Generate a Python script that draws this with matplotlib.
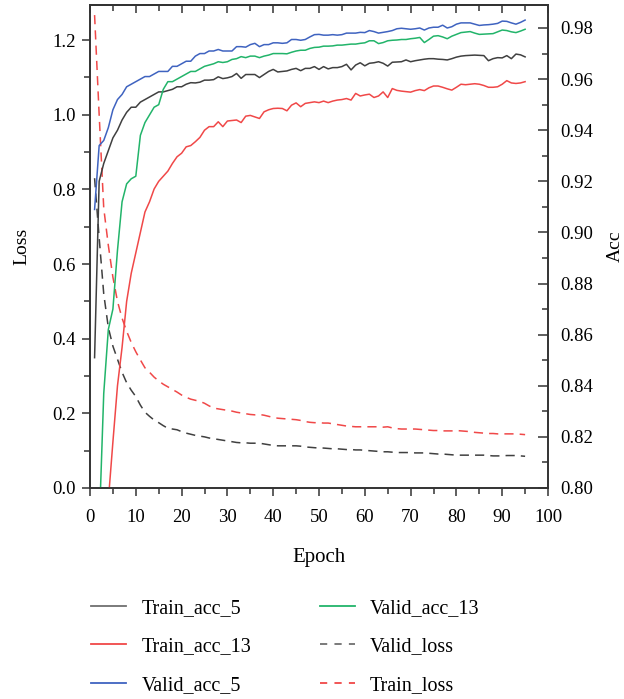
import numpy as np
import matplotlib
matplotlib.use("Agg")
import matplotlib.pyplot as plt
from matplotlib.ticker import MultipleLocator
from matplotlib.lines import Line2D

plt.rcParams['font.family'] = ['Liberation Serif', 'DejaVu Serif']

# epochs 1..95
epochs = list(range(1, 96))

# accuracy curves (right axis)
train_acc_5 = [
    0.851, 0.920, 0.927, 0.932, 0.937, 0.940, 0.944, 0.947, 0.949, 0.949,
    0.951, 0.952, 0.953, 0.954, 0.955, 0.955, 0.9555, 0.956, 0.957, 0.957,
    0.958, 0.9586, 0.9585, 0.9588, 0.9596, 0.9596, 0.9598, 0.9609, 0.9602, 0.9605,
    0.961, 0.9622, 0.9603, 0.9618, 0.9618, 0.9618, 0.9606, 0.9618, 0.963, 0.9638,
    0.9628, 0.963, 0.9632, 0.9638, 0.9642, 0.9633, 0.9642, 0.9642, 0.9649, 0.9638,
    0.9649, 0.964, 0.9645, 0.9645, 0.9649, 0.9658, 0.9636, 0.9655, 0.9664, 0.9652,
    0.9662, 0.9664, 0.9668, 0.9662, 0.9651, 0.9666, 0.9667, 0.9668, 0.9675, 0.9668,
    0.9672, 0.9675, 0.9678, 0.968, 0.968, 0.9678, 0.9677, 0.9675, 0.968, 0.9686,
    0.969, 0.9692, 0.9693, 0.9694, 0.9693, 0.9692, 0.9672, 0.968, 0.9684, 0.9683,
    0.9692, 0.968, 0.9698, 0.9695, 0.9687]

train_acc_13 = [
    0.55, 0.65, 0.73, 0.795, 0.818, 0.840, 0.855, 0.873, 0.884, 0.892,
    0.900, 0.908, 0.912, 0.917, 0.920, 0.922, 0.924, 0.927, 0.9296, 0.931,
    0.9335, 0.934, 0.9355, 0.9372, 0.940, 0.9414, 0.9414, 0.9433, 0.9414, 0.9436,
    0.9438, 0.944, 0.943, 0.9455, 0.9458, 0.9452, 0.9446, 0.9472, 0.948, 0.9485,
    0.9486, 0.9485, 0.9476, 0.9498, 0.9507, 0.9492, 0.9505, 0.9508, 0.9511, 0.9508,
    0.9514, 0.9508, 0.9514, 0.9518, 0.952, 0.9524, 0.9518, 0.9544, 0.9534, 0.9538,
    0.9541, 0.9528, 0.9534, 0.955, 0.9528, 0.9563, 0.9556, 0.9553, 0.9551, 0.9549,
    0.9555, 0.9559, 0.9555, 0.9566, 0.9573, 0.9573, 0.9568, 0.9562, 0.9557, 0.9568,
    0.958, 0.9578, 0.958, 0.9582, 0.958, 0.9575, 0.9568, 0.9568, 0.957, 0.958,
    0.9594, 0.9585, 0.9583, 0.9585, 0.959]

valid_acc_5 = [
    0.909, 0.934, 0.936, 0.941, 0.948, 0.952, 0.954, 0.957, 0.958, 0.959,
    0.960, 0.961, 0.961, 0.962, 0.963, 0.963, 0.963, 0.965, 0.965, 0.966,
    0.967, 0.967, 0.969, 0.970, 0.970, 0.971, 0.971, 0.9716, 0.971, 0.971,
    0.971, 0.9727, 0.9727, 0.9725, 0.9735, 0.974, 0.9727, 0.9735, 0.9735, 0.9742,
    0.9742, 0.974, 0.9742, 0.9755, 0.9755, 0.9752, 0.9755, 0.9765, 0.9774, 0.9775,
    0.9772, 0.9772, 0.9774, 0.9772, 0.9774, 0.978, 0.978, 0.978, 0.9783, 0.9782,
    0.979, 0.9786, 0.978, 0.9783, 0.9786, 0.979, 0.9797, 0.9799, 0.9797, 0.9795,
    0.9797, 0.980, 0.9792, 0.980, 0.9803, 0.9803, 0.9811, 0.980, 0.9805, 0.9815,
    0.982, 0.982, 0.982, 0.9815, 0.981, 0.9812, 0.9813, 0.9815, 0.9818, 0.9827,
    0.9826, 0.982, 0.9815, 0.9822, 0.9831]

valid_acc_13 = [
    0.70, 0.784, 0.837, 0.862, 0.870, 0.893, 0.912, 0.919, 0.921, 0.922,
    0.938, 0.943, 0.946, 0.949, 0.950, 0.956, 0.959, 0.959, 0.960, 0.961,
    0.962, 0.963, 0.963, 0.964, 0.965, 0.9655, 0.966, 0.9668, 0.9665, 0.9668,
    0.9677, 0.968, 0.9688, 0.9684, 0.969, 0.969, 0.9684, 0.969, 0.9694, 0.970,
    0.970, 0.970, 0.9699, 0.9705, 0.971, 0.9713, 0.9713, 0.972, 0.9724, 0.9725,
    0.9729, 0.9729, 0.973, 0.9733, 0.9733, 0.9735, 0.9737, 0.9737, 0.974, 0.9742,
    0.975, 0.975, 0.9739, 0.9743, 0.975, 0.9752, 0.9753, 0.9755, 0.9755, 0.9758,
    0.976, 0.9763, 0.9743, 0.9755, 0.9768, 0.977, 0.9765, 0.9758, 0.9768, 0.9775,
    0.9782, 0.9784, 0.9786, 0.978, 0.9775, 0.9776, 0.9777, 0.9778, 0.9785, 0.9792,
    0.979, 0.9785, 0.9782, 0.9788, 0.9795]

# loss curves (left axis)
valid_loss = [
    0.83, 0.67, 0.52, 0.43, 0.38, 0.345, 0.31, 0.282, 0.262, 0.245,
    0.222, 0.203, 0.192, 0.182, 0.175, 0.167, 0.160, 0.158, 0.156, 0.151,
    0.147, 0.144, 0.141, 0.139, 0.137, 0.134, 0.132, 0.130, 0.128, 0.126,
    0.124, 0.122, 0.121, 0.121, 0.120, 0.120, 0.120, 0.118, 0.116, 0.114,
    0.113, 0.113, 0.113, 0.113, 0.113, 0.112, 0.110, 0.109, 0.108, 0.107,
    0.107, 0.106, 0.105, 0.105, 0.104, 0.103, 0.103, 0.102, 0.102, 0.101,
    0.100, 0.099, 0.098, 0.097, 0.097, 0.096, 0.095, 0.095, 0.095, 0.095,
    0.094, 0.094, 0.094, 0.093, 0.092, 0.091, 0.091, 0.090, 0.089, 0.088,
    0.088, 0.088, 0.088, 0.088, 0.088, 0.088, 0.087, 0.086, 0.086, 0.086,
    0.087, 0.087, 0.087, 0.086, 0.085]

train_loss = [
    1.267, 1.00, 0.75, 0.65, 0.565, 0.50, 0.455, 0.42, 0.39, 0.365,
    0.343, 0.322, 0.310, 0.297, 0.287, 0.278, 0.271, 0.264, 0.257, 0.249,
    0.243, 0.238, 0.235, 0.232, 0.227, 0.220, 0.214, 0.212, 0.210, 0.208,
    0.206, 0.203, 0.201, 0.199, 0.197, 0.196, 0.197, 0.195, 0.192, 0.189,
    0.187, 0.186, 0.185, 0.184, 0.183, 0.181, 0.178, 0.176, 0.175, 0.175,
    0.174, 0.174, 0.172, 0.170, 0.168, 0.166, 0.165, 0.164, 0.164, 0.164,
    0.164, 0.164, 0.164, 0.163, 0.164, 0.161, 0.159, 0.158, 0.158, 0.158,
    0.158, 0.157, 0.156, 0.155, 0.154, 0.154, 0.153, 0.153, 0.153, 0.154,
    0.153, 0.152, 0.151, 0.149, 0.148, 0.147, 0.146, 0.146, 0.145, 0.145,
    0.145, 0.145, 0.145, 0.144, 0.143]

c_black = '#404040'
c_red = '#f04848'
c_blue = '#3f63c0'
c_green = '#22b46a'
spine_c = '#333333'
dash = (0, (6, 4))

fig = plt.figure(figsize=(6.24, 6.99), dpi=100)
ax = fig.add_axes([90 / 624, 1 - 488 / 699, (548 - 90) / 624, (488 - 5) / 699])
ax2 = ax.twinx()

# losses on left axis
ax.plot(epochs, valid_loss, color=c_black, lw=1.1, linestyle=dash)
ax.plot(epochs, train_loss, color=c_red, lw=1.1, linestyle=dash)

# accuracies on right axis
ax2.plot(epochs, train_acc_5, color=c_black, lw=1.1)
ax2.plot(epochs, train_acc_13, color=c_red, lw=1.1)
ax2.plot(epochs, valid_acc_5, color=c_blue, lw=1.1)
ax2.plot(epochs, valid_acc_13, color=c_green, lw=1.1)

ax.set_xlim(0, 100)
ax.set_ylim(0, 1.294)
ax2.set_ylim(0.80, 0.989)

ax.xaxis.set_major_locator(MultipleLocator(10))
ax.xaxis.set_minor_locator(MultipleLocator(5))
ax.yaxis.set_major_locator(MultipleLocator(0.2))
ax.yaxis.set_minor_locator(MultipleLocator(0.1))
ax2.yaxis.set_major_locator(MultipleLocator(0.02))
ax2.yaxis.set_minor_locator(MultipleLocator(0.01))
ax.yaxis.set_major_formatter(plt.FormatStrFormatter('%.1f'))
ax2.yaxis.set_major_formatter(plt.FormatStrFormatter('%.2f'))

ax.tick_params(axis='x', which='major', direction='out', length=6, width=1.1, color=spine_c, labelsize=13.5, pad=9)
ax.tick_params(axis='x', which='minor', direction='out', length=4, width=1.1, color=spine_c)
ax.tick_params(axis='y', which='major', direction='out', length=6, width=1.1, color=spine_c, labelsize=13.5, pad=4)
ax.tick_params(axis='y', which='minor', direction='out', length=4, width=1.1, color=spine_c)
ax2.tick_params(axis='y', which='major', direction='in', length=7, width=1.1, color=spine_c, labelsize=13.5, pad=9)
ax2.tick_params(axis='y', which='minor', direction='in', length=4, width=1.1, color=spine_c)

# top ticks pointing inward
top = ax.secondary_xaxis('top')
top.xaxis.set_major_locator(MultipleLocator(10))
top.xaxis.set_minor_locator(MultipleLocator(5))
top.tick_params(which='major', direction='in', length=6, width=1.1, color=spine_c, labeltop=False)
top.tick_params(which='minor', direction='in', length=4, width=1.1, color=spine_c)

for a in (ax, ax2):
    for s in a.spines.values():
        s.set_color(spine_c)
        s.set_linewidth(1.2)
top.spines['top'].set_color(spine_c)
top.spines['top'].set_linewidth(1.2)

ax.set_xlabel('Epoch', fontsize=15, labelpad=16)
ax.set_ylabel('Loss', fontsize=14, labelpad=16)
ax2.set_ylabel('Acc', fontsize=14, labelpad=10)

handles = [
    Line2D([], [], color='#707070', lw=1.3),
    Line2D([], [], color=c_red, lw=1.3),
    Line2D([], [], color=c_blue, lw=1.3),
    Line2D([], [], color=c_green, lw=1.3),
    Line2D([], [], color='#707070', lw=1.3, linestyle=(0, (4, 4))),
    Line2D([], [], color=c_red, lw=1.3, linestyle=(0, (4, 4))),
]
labels = ['Train_acc_5', 'Train_acc_13', 'Valid_acc_5',
          'Valid_acc_13', 'Valid_loss', 'Train_loss']
fig.legend(handles, labels, ncol=2, frameon=False, fontsize=14.5,
           loc='upper left', bbox_to_anchor=(73 / 624, 1 - 581 / 699),
           handlelength=1.75, handletextpad=0.75, columnspacing=3.4,
           labelspacing=0.95)

fig.savefig('out.png', dpi=100)
